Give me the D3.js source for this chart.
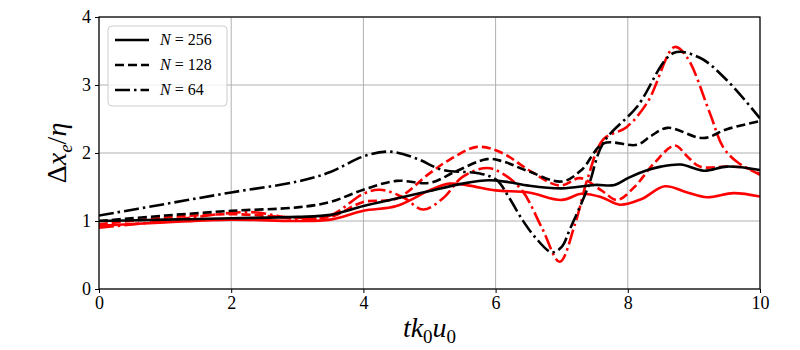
<!DOCTYPE html>
<html>
  <head>
    <meta charset="utf-8">
    <title>Delta x_e / eta vs t k0 u0</title>
    <script src="https://d3js.org/d3.v7.min.js"></script>
    <style>
      body { margin: 0; background: #fff; }
      svg text { font-family: "Liberation Serif", "Times New Roman", "DejaVu Serif", serif !important; }
    </style>
  </head>
  <body>
    <svg id="chart"></svg>
    <script>
// values
var xTicks = [0, 2, 4, 6, 8, 10];
var yTicks = [0, 1, 2, 3, 4];

var t256 = [0, 1, 2, 3, 3.5, 4, 4.5, 5, 5.5, 5.9, 6.2, 6.5, 7, 7.5, 7.8, 8, 8.3, 8.5, 8.8, 9.15, 9.5, 10];
var black256 = [1.0, 1.02, 1.04, 1.06, 1.09, 1.22, 1.33, 1.44, 1.55, 1.6, 1.57, 1.52, 1.48, 1.53, 1.53, 1.63, 1.75, 1.8, 1.83, 1.74, 1.8, 1.75];
var tr256 = [0, 1, 2, 3, 3.5, 4, 4.5, 5, 5.3, 5.6, 6, 6.5, 7, 7.3, 7.6, 7.88, 8.2, 8.56, 8.9, 9.2, 9.6, 10];
var red256 = [0.93, 0.98, 1.02, 1.0, 1.02, 1.15, 1.22, 1.45, 1.55, 1.52, 1.45, 1.42, 1.31, 1.4, 1.35, 1.24, 1.32, 1.51, 1.42, 1.35, 1.41, 1.36];

var t128 = [0, 1, 2, 3, 3.5, 4, 4.5, 5, 5.4, 5.87, 6.1, 6.5, 7, 7.3, 7.63, 8.14, 8.35, 8.6, 9.14, 9.5, 10];
var black128 = [1.0, 1.08, 1.15, 1.2, 1.28, 1.46, 1.59, 1.56, 1.73, 1.91, 1.88, 1.73, 1.58, 1.75, 2.14, 2.12, 2.25, 2.37, 2.22, 2.35, 2.47];
var tr128 = [0, 1, 2, 3, 3.5, 4, 4.5, 5, 5.3, 5.72, 6.1, 6.5, 6.97, 7.28, 7.6, 7.84, 8.1, 8.4, 8.71, 8.9, 9.09, 9.5, 9.8, 10];
var red128 = [0.95, 1.05, 1.1, 1.05, 1.06, 1.28, 1.33, 1.7, 1.9, 2.09, 2.0, 1.75, 1.52, 1.63, 1.45, 1.31, 1.5, 1.85, 2.11, 1.95, 1.8, 1.8, 1.78, 1.69];

var t64 = [0, 1, 2, 3, 3.5, 4, 4.4, 4.8, 5.2, 5.76, 6.02, 6.2, 6.41, 6.6, 6.85, 7.0, 7.12, 7.4, 7.63, 8.14, 8.69, 9.09, 9.5, 10];
var black64 = [1.08, 1.25, 1.42, 1.58, 1.72, 1.95, 2.02, 1.92, 1.75, 1.7, 1.6, 1.35, 1.01, 0.76, 0.54, 0.62, 0.87, 1.5, 2.15, 2.68, 3.47, 3.4, 3.07, 2.51];
var tr64 = [0, 1, 2.3, 3, 3.5, 4, 4.25, 4.6, 4.9, 5.2, 5.5, 5.87, 6.1, 6.4, 6.7, 6.97, 7.2, 7.4, 7.63, 7.98, 8.3, 8.71, 8.9, 9.24, 9.44, 9.65, 10];
var red64 = [0.9, 1.0, 1.13, 1.03, 1.08, 1.4, 1.46, 1.35, 1.17, 1.33, 1.65, 1.78, 1.7, 1.45, 0.9, 0.4, 0.95, 1.65, 2.2, 2.38, 2.75, 3.56, 3.4, 2.59, 2.09, 1.87, 1.68];

var legendLabels = ["256", "128", "64"];

var width = 800, height = 350;
var margin = { top: 17, right: 40, bottom: 61, left: 99 };

var svg = d3.select("#chart")
  .attr("width", width)
  .attr("height", height);

var x = d3.scaleLinear().domain([0, 10]).range([margin.left, width - margin.right]);
var y = d3.scaleLinear().domain([0, 4]).range([height - margin.bottom, margin.top]);

// grid
svg.append("g").selectAll("line").data(xTicks).enter().append("line")
  .attr("x1", function(d) { return x(d); }).attr("x2", function(d) { return x(d); })
  .attr("y1", y(0)).attr("y2", y(4))
  .style("stroke", "#b0b0b0").style("stroke-width", 1);
svg.append("g").selectAll("line").data(yTicks).enter().append("line")
  .attr("x1", x(0)).attr("x2", x(10))
  .attr("y1", function(d) { return y(d); }).attr("y2", function(d) { return y(d); })
  .style("stroke", "#b0b0b0").style("stroke-width", 1);

// axes
svg.append("g")
  .attr("transform", "translate(0," + y(0) + ")")
  .call(d3.axisBottom(x).tickValues(xTicks).tickSize(4).tickPadding(3).tickFormat(d3.format("d")));
svg.append("g")
  .attr("transform", "translate(" + x(0) + ",0)")
  .call(d3.axisLeft(y).tickValues(yTicks).tickSize(4).tickPadding(4).tickFormat(d3.format("d")));
svg.selectAll(".domain").remove();
svg.selectAll(".tick line").style("stroke", "#000");
svg.selectAll(".tick text")
  .style("font-size", "18px")
  .style("fill", "#000");

// series
var line = d3.line()
  .x(function(d) { return x(d[0]); })
  .y(function(d) { return y(d[1]); })
  .curve(d3.curveCatmullRom.alpha(0.5));

var series = [
  { t: tr64, v: red64, color: "#ff0000", dash: "15,4,2.5,4" },
  { t: tr128, v: red128, color: "#ff0000", dash: "9,4" },
  { t: tr256, v: red256, color: "#ff0000", dash: null },
  { t: t64, v: black64, color: "#000", dash: "15,4,2.5,4" },
  { t: t128, v: black128, color: "#000", dash: "9,4" },
  { t: t256, v: black256, color: "#000", dash: null }
];

svg.append("clipPath").attr("id", "plotclip").append("rect")
  .attr("x", x(0)).attr("y", y(4)).attr("width", x(10) - x(0)).attr("height", y(0) - y(4));

svg.append("g").attr("clip-path", "url(#plotclip)")
  .selectAll("path").data(series).enter().append("path")
  .attr("d", function(s) { return line(s.t.map(function(t, i) { return [t, s.v[i]]; })); })
  .style("fill", "none")
  .style("stroke", function(s) { return s.color; })
  .style("stroke-width", 2.6)
  .style("stroke-dasharray", function(s) { return s.dash; });

// frame
svg.append("rect")
  .attr("x", x(0)).attr("y", y(4))
  .attr("width", x(10) - x(0)).attr("height", y(0) - y(4))
  .style("fill", "none").style("stroke", "#000").style("stroke-width", 1.2);

// legend
var legend = svg.append("g").attr("transform", "translate(108,26)");
legend.append("rect")
  .attr("width", 119).attr("height", 80)
  .attr("rx", 4).attr("ry", 4)
  .style("fill", "rgba(255,255,255,0.8)")
  .style("stroke", "#cccccc");
var legendDash = [null, "9,4", "15,4,2.5,4"];
var rows = legend.selectAll(".row").data(legendLabels).enter().append("g")
  .attr("transform", function(d, i) { return "translate(0," + (14 + i * 25) + ")"; });
rows.append("line")
  .attr("x1", 7).attr("x2", 41).attr("y1", 0).attr("y2", 0)
  .style("stroke", "#000").style("stroke-width", 2.6)
  .style("stroke-dasharray", function(d, i) { return legendDash[i]; });
var lt = rows.append("text")
  .attr("x", 52).attr("y", 5)
  .style("font-size", "16px");
lt.append("tspan").style("font-style", "italic").text("N");
lt.append("tspan").text(function(d) { return " = " + d; });

// axis labels
var xl = svg.append("text")
  .attr("x", (x(0) + x(10)) / 2).attr("y", 337)
  .attr("text-anchor", "middle")
  .style("font-size", "28px");
xl.append("tspan").style("font-style", "italic").text("tk");
xl.append("tspan").attr("dy", 6).style("font-size", "19px").text("0");
xl.append("tspan").attr("dy", -6).style("font-style", "italic").text("u");
xl.append("tspan").attr("dy", 6).style("font-size", "19px").text("0");

var yl = svg.append("text")
  .attr("transform", "translate(66," + y(2) + ") rotate(-90)")
  .attr("text-anchor", "middle")
  .style("font-size", "28px");
yl.append("tspan").text("Δ");
yl.append("tspan").style("font-style", "italic").text("x");
yl.append("tspan").attr("dy", 6).style("font-size", "19px").style("font-style", "italic").text("e");
yl.append("tspan").attr("dy", -6).text("/");
yl.append("tspan").style("font-style", "italic").text("η");
    </script>
  </body>
</html>
